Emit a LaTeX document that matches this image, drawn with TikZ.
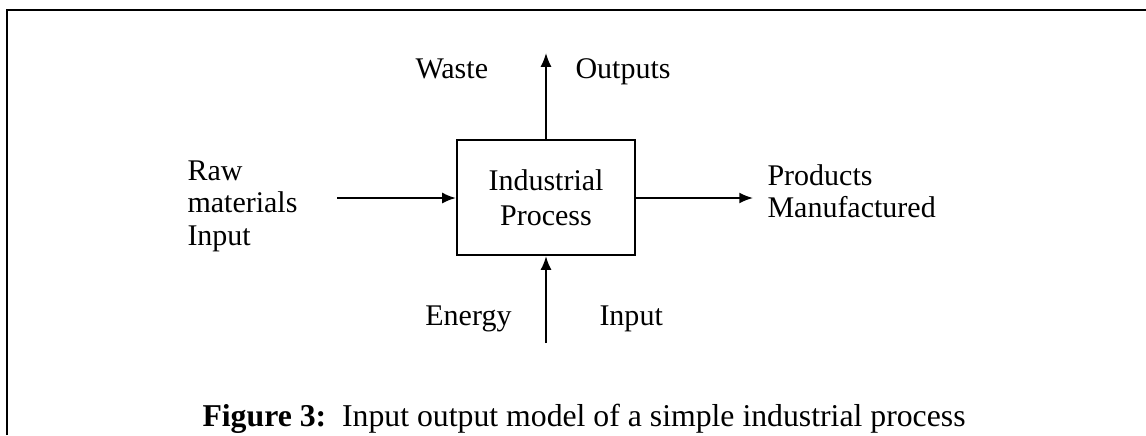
\documentclass[tikz,border=0pt]{standalone}
\usepackage{fontspec}
\setmainfont{Liberation Serif}
\usetikzlibrary{arrows.meta}

\begin{document}
\begin{tikzpicture}[x=0.4pt, y=-0.4pt,
  freccia/.style={-{Latex[length=5.5pt,width=4.4pt]}, line width=0.7pt},
  etichetta/.style={inner sep=0pt, font=\fontsize{12}{13}\selectfont},
]

% Cornice
\useasboundingbox (0,0) rectangle (1146,435);
\draw[line width=1pt] (7,435) -- (7,10) -- (1146,10);

% Processo
\node[draw, line width=0.9pt, minimum width=71.2pt, minimum height=46pt,
  align=center, font=\fontsize{12}{14}\selectfont] (proc) at (546,197.5)
  {Industrial\\Process};

% Estremi delle frecce
\coordinate (sopra) at (546,53);
\coordinate (sinistra) at (337,198);
\coordinate (destra) at (753,198);
\coordinate (sotto) at (546,343);

% Frecce
\draw[freccia] (proc.north) -- (sopra);
\draw[freccia] (sinistra) -- (proc.west |- sinistra);
\draw[freccia] (proc.east |- destra) -- (destra);
\draw[freccia] (sotto) -- (proc.south);

% Etichette
\node[etichetta, anchor=base west] (waste) at (415,78) {Waste};
\node[etichetta, anchor=base west] (outputs) at (575,78) {Outputs};
\node[etichetta, anchor=north west, align=left] (raw) at (187,160)
  {Raw\\materials\\Input};
\node[etichetta, anchor=north west, align=left] (prod) at (767,164)
  {Products\\Manufactured};
\node[etichetta, anchor=base east] (energy) at (512,325) {Energy};
\node[etichetta, anchor=base west] (input) at (599,325) {Input};

% Didascalia
\node[etichetta, anchor=base west, font=\fontsize{12.7}{14}\selectfont]
  (didascalia) at (202,426)
  {\textbf{Figure 3:}\ \ Input output model of a simple industrial process};
\end{tikzpicture}
\end{document}
